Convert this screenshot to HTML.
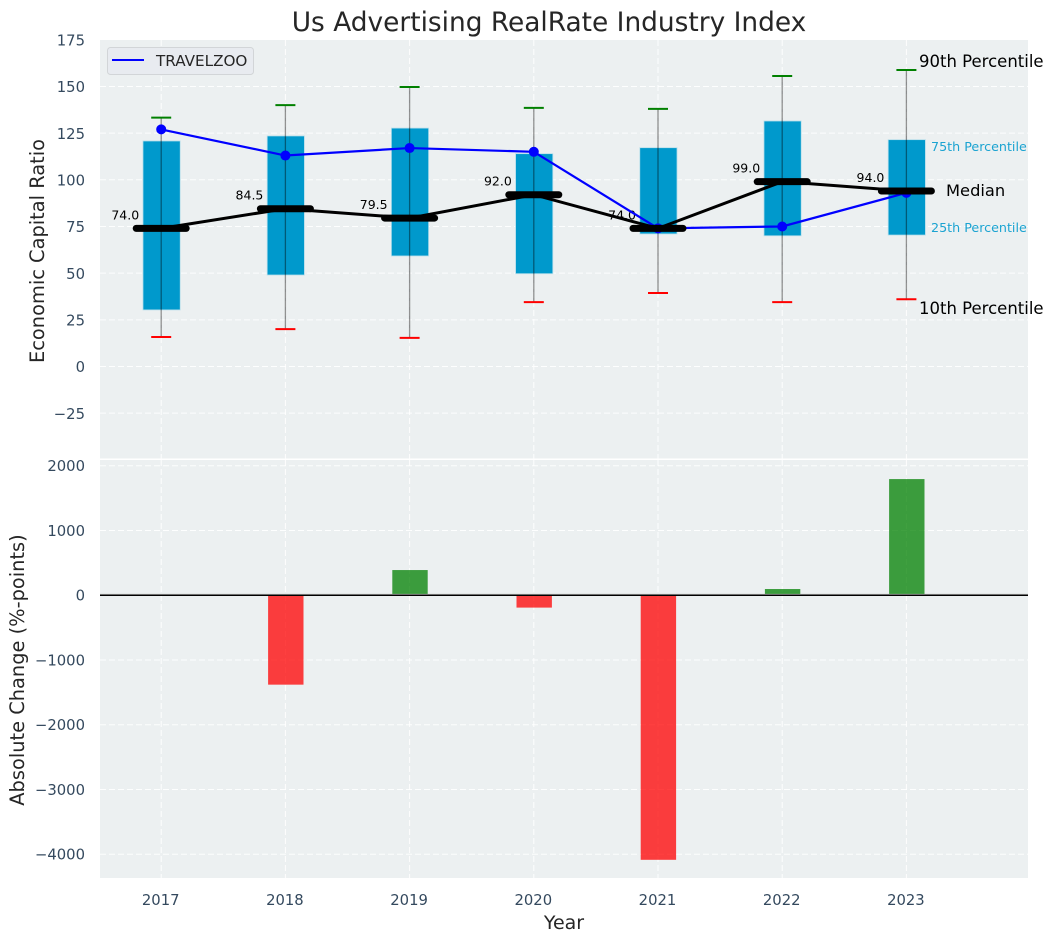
<!DOCTYPE html>
<html lang="en">
<head>
<meta charset="utf-8">
<title>Us Advertising RealRate Industry Index</title>
<style>
html,body{margin:0;padding:0;background:#fff;width:1054px;height:942px;overflow:hidden}
svg{display:block;font-family:"DejaVu Sans","Liberation Sans",sans-serif}
</style>
</head>
<body>
<svg id="chart" xmlns="http://www.w3.org/2000/svg" width="1054" height="942" viewBox="0 0 1054 942">
  <rect x="0" y="0" width="1054" height="942" fill="#ffffff"/>
  <rect x="100" y="40" width="928" height="418.5" fill="#ecf0f1"/>
  <rect x="100" y="460" width="928" height="418" fill="#ecf0f1"/>
  <g id="grid"></g>
  <g id="top"></g>
  <g id="bottom"></g>
  <g id="ticks"></g>
  <text x="549" y="31" text-anchor="middle" font-size="26.4px" fill="#262626">Us Advertising RealRate Industry Index</text>
  <text transform="translate(44,251) rotate(-90)" text-anchor="middle" font-size="19.4px" fill="#262626">Economic Capital Ratio</text>
  <text transform="translate(24,670) rotate(-90)" text-anchor="middle" font-size="19.4px" fill="#262626">Absolute Change (%-points)</text>
  <text x="564" y="929" text-anchor="middle" font-size="19px" fill="#262626">Year</text>
  <g>
    <rect x="107.5" y="47.5" width="146" height="27" rx="3" ry="3" fill="#e8ebf0" stroke="#d2d5d8" stroke-width="1"/>
    <line x1="112" y1="60" x2="144" y2="60" stroke="#0000ff" stroke-width="2"/>
    <text x="156" y="66" font-size="15.2px" fill="#262626">TRAVELZOO</text>
  </g>
  <g>
    <text x="919" y="67" font-size="16.5px" fill="#000">90th Percentile</text>
    <text x="931" y="151" font-size="12.7px" fill="#1ba3d1">75th Percentile</text>
    <text x="946" y="196" font-size="16.3px" fill="#000">Median</text>
    <text x="931" y="232" font-size="12.7px" fill="#1ba3d1">25th Percentile</text>
    <text x="919" y="314" font-size="16.5px" fill="#000">10th Percentile</text>
  </g>
</svg>
<script>
const years = ['2017','2018','2019','2020','2021','2022','2023'];
const p90 = [133.3,140,149.7,138.5,138,155.6,158.8];
const q3 = [120.8,123.5,127.7,114,117.2,131.5,121.5];
const median = [74,84.5,79.5,92,74,99,94];
const q1 = [30.3,49,59.2,49.7,71,70,70.4];
const p10 = [15.8,20,15.3,34.5,39.4,34.5,36];
const company = [127,113,117,115,74,75,93];
const change = [0,-1380,390,-190,-4085,97,1795];
const topTicks = [175,150,125,100,75,50,25,0,-25];
const bottomTicks = [2000,1000,0,-1000,-2000,-3000,-4000];

const NS = 'http://www.w3.org/2000/svg';
function xPos(i){ return 161.2 + i * 124.2; }
function xUnits(u){ return u * 124.2; }
function yTop(v){ return 366.5 - v * 1.867; }
function yBottom(v){ return 595.3 - v * 0.06475; }
function fmt(v){ return v < 0 ? '\u2212' + Math.abs(v) : String(v); }
function make(tag, parent, attrs){
  const e = document.createElementNS(NS, tag);
  for (const k in attrs) e.setAttribute(k, attrs[k]);
  parent.appendChild(e);
  return e;
}
const gridG = document.getElementById('grid');
const topG = document.getElementById('top');
const bottomG = document.getElementById('bottom');
const tickG = document.getElementById('ticks');
const gridStyle = {stroke:'#ffffff','stroke-width':1,'stroke-dasharray':'6 3','stroke-opacity':0.9};

/* gridlines and tick labels */
topTicks.forEach(function(t){
  const y = yTop(t);
  if (t < 175) {
    const g = make('line', gridG, Object.assign({x1:100,x2:1028,y1:y,y2:y}, gridStyle));
    
    
  }
  const l = make('text', tickG, {x:85,y:y+5.7,'text-anchor':'end','font-size':'14.8px',fill:'#34495e'});
  l.textContent = fmt(t);
  
  
});
bottomTicks.forEach(function(t){
  const y = yBottom(t);
  if (t !== 0) {
    const g = make('line', gridG, Object.assign({x1:100,x2:1028,y1:y,y2:y}, gridStyle));
    
    
  }
  const l = make('text', tickG, {x:85,y:y+5.2,'text-anchor':'end','font-size':'14.8px',fill:'#34495e'});
  l.textContent = fmt(t);
  
  
});
years.forEach(function(yr, i){
  const x = xPos(i);
  const a = make('line', gridG, Object.assign({x1:x,x2:x,y1:40,y2:458.5}, gridStyle));
  
  
  const b = make('line', gridG, Object.assign({x1:x,x2:x,y1:460,y2:878}, gridStyle));
  
  
  const l = make('text', tickG, {x:x-0.5,y:905,'text-anchor':'middle','font-size':'14.8px',fill:'#34495e'});
  l.textContent = yr;
  
  
});

/* interquartile boxes */
years.forEach(function(yr, i){
  const w = xUnits(0.3);
  const box = make('rect', topG, {x:xPos(i)-w/2+0.4,y:yTop(q3[i]),width:w,height:yTop(q1[i])-yTop(q3[i]),fill:'#0099cc',stroke:'#b9dfeb','stroke-width':0.8});
  
  
});
/* whiskers */
years.forEach(function(yr, i){
  const x = xPos(i);
  const wh = make('line', topG, {x1:x,x2:x,y1:yTop(p90[i]),y2:yTop(p10[i]),stroke:'#000','stroke-opacity':0.42,'stroke-width':1.3});
  
  
  const hi = make('line', topG, {x1:x-10,x2:x+10,y1:yTop(p90[i]),y2:yTop(p90[i]),stroke:'#008000','stroke-width':2});
  
  
  const lo = make('line', topG, {x1:x-10,x2:x+10,y1:yTop(p10[i]),y2:yTop(p10[i]),stroke:'#ff0000','stroke-width':2});
  
  
});
/* median value labels */
median.forEach(function(m, i){
  const l = make('text', topG, {x:xPos(i)-22,y:yTop(m)-9,'text-anchor':'end','font-size':'12.5px',fill:'#000'});
  l.textContent = m.toFixed(1);
  
  
});
/* company series */
const bluePts = company.map(function(v, i){ return xPos(i) + ',' + yTop(v); }).join(' ');
const blue = make('polyline', topG, {points:bluePts,fill:'none',stroke:'#0000ff','stroke-width':2.2});


company.forEach(function(v, i){
  const c = make('circle', topG, {cx:xPos(i),cy:yTop(v),r:5,fill:'#0000ff'});
  
  
});
/* median series */
const medPts = median.map(function(v, i){ return xPos(i) + ',' + yTop(v); }).join(' ');
const medLine = make('polyline', topG, {points:medPts,fill:'none',stroke:'#000','stroke-width':3});


median.forEach(function(v, i){
  const x = xPos(i);
  const m = make('line', topG, {x1:x-25,x2:x+25,y1:yTop(v),y2:yTop(v),stroke:'#000','stroke-width':7,'stroke-linecap':'round'});
  
  
});

/* change bars */
change.forEach(function(v, i){
  if (v === 0) return;
  const w = xUnits(0.285);
  const y0 = yBottom(0);
  const y1 = yBottom(v);
  const bar = make('rect', bottomG, {x:xPos(i)-w/2+0.4,y:Math.min(y0,y1),width:w,height:Math.abs(y1-y0),fill:v<0?'#ff0000':'#008000','fill-opacity':0.75});
  
  
});
const zeroShadow = make('line', bottomG, {x1:100,x2:1028,y1:yBottom(0)-0.8,y2:yBottom(0)-0.8,stroke:'#b0b0b0','stroke-width':1.2});


const zero = make('line', bottomG, {x1:100,x2:1028,y1:yBottom(0),y2:yBottom(0),stroke:'#000','stroke-width':1.3});


</script>
</body>
</html>
